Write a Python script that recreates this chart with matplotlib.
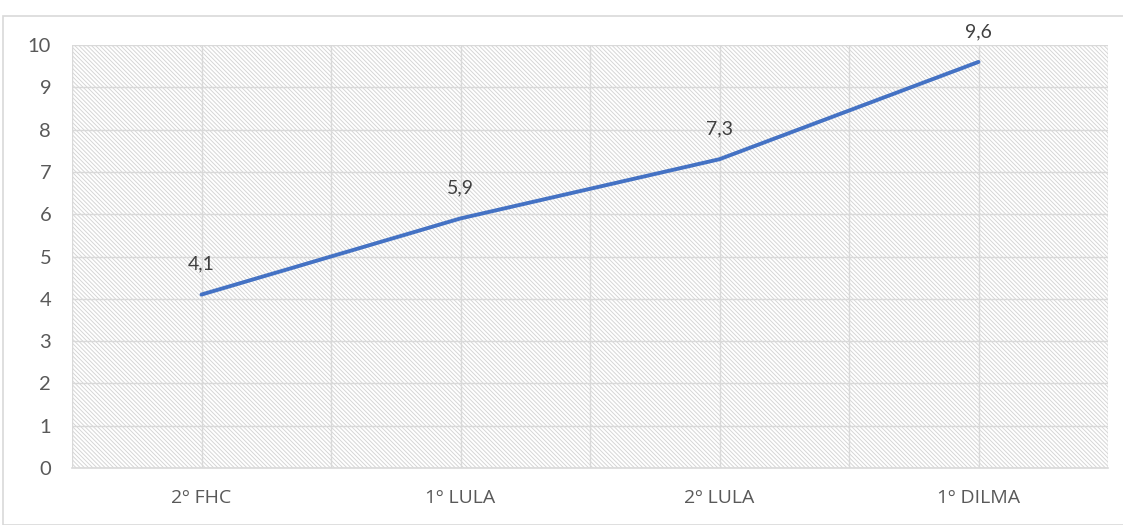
import matplotlib
matplotlib.use("Agg")
import matplotlib.pyplot as plt
from matplotlib.patches import Rectangle
import numpy as np

# Data
categories = ["2º FHC", "1º LULA", "2º LULA", "1º DILMA"]
values = [4.1, 5.9, 7.3, 9.6]
value_labels = ["4,1", "5,9", "7,3", "9,6"]
y_ticks = list(range(0, 11))

plt.rcParams["font.family"] = ["Lato", "DejaVu Sans"]
plt.rcParams["hatch.linewidth"] = 0.7
text_color = "#595959"
grid_color = "#d9d9d9"
line_color = "#4472C4"

W, H = 1123, 525
fig = plt.figure(figsize=(W / 100, H / 100), dpi=100)
fig.patch.set_facecolor("white")

# Outer chart frame
fig.patches.append(Rectangle((3 / W, 0), 1.2, (H - 16) / H, transform=fig.transFigure,
                             facecolor="none", edgecolor=grid_color, linewidth=1.2))

ax = fig.add_axes([72 / W, (H - 468) / H, (1108 - 72) / W, (468 - 45) / H])
ax.set_facecolor("white")

x = np.arange(len(categories))
ax.set_xlim(-0.5, len(categories) - 0.5)
ax.set_ylim(0, 10)

# Hatched plot-area fill
ax.add_patch(Rectangle((0, 0), 1, 1, transform=ax.transAxes, facecolor="white",
                       edgecolor="#d6d6d6", linewidth=0, hatch="\\" * 8, zorder=0))

# Gridlines
for yv in y_ticks:
    ax.axhline(yv, color=grid_color, linewidth=1.0, zorder=1)
for xv in np.arange(-0.5, len(categories), 0.5):
    ax.axvline(xv, color=grid_color, linewidth=1.0, zorder=1)

ax.plot(x, values, color=line_color, linewidth=2.8, solid_capstyle="round", zorder=3)

for xi, v, lab in zip(x, values, value_labels):
    ax.annotate(lab, (xi, v), xytext=(0, 18), textcoords="offset points",
                ha="center", va="baseline", fontsize=14, color="#404040", zorder=4)

ax.set_xticks(x)
ax.set_xticklabels(categories, fontsize=14, color=text_color,
                   family=["Open Sans", "DejaVu Sans"])
ax.set_yticks(y_ticks)
ax.set_yticklabels([str(t) for t in y_ticks], fontsize=14.5, color=text_color)
ax.tick_params(axis="both", length=0)
ax.tick_params(axis="x", pad=15)
ax.tick_params(axis="y", pad=15)

for side in ["top", "right", "left"]:
    ax.spines[side].set_visible(False)
ax.spines["bottom"].set_color(grid_color)
ax.spines["bottom"].set_linewidth(1.2)

fig.savefig("out.png", dpi=100, facecolor="white")
